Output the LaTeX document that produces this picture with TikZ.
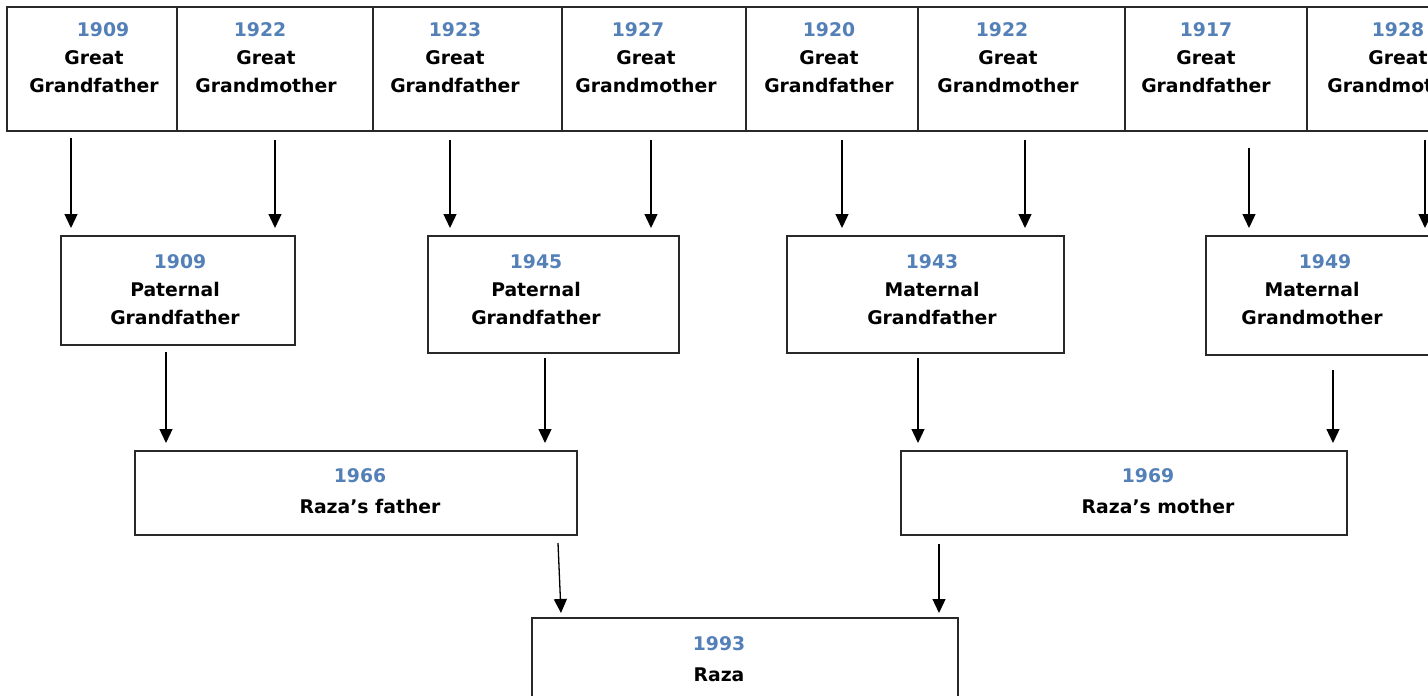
\documentclass[tikz,border=0pt]{standalone}
\usepackage{fontspec}
\setmainfont{DejaVu Sans}
\usetikzlibrary{arrows.meta}
\definecolor{yearblue}{RGB}{84,128,184}
\definecolor{boxline}{RGB}{40,40,40}
\newcommand{\yr}[1]{\textcolor{yearblue}{#1}}
\begin{document}
\begin{tikzpicture}[x=1pt,y=-1pt,
  box/.style={draw=boxline,line width=1.4pt,anchor=north west,inner sep=0pt,outer sep=0pt},
  lbl/.style={align=center,font=\bfseries\fontsize{18.8}{28}\selectfont,inner sep=0pt},
  lbltwo/.style={align=center,font=\bfseries\fontsize{18.8}{31}\selectfont,inner sep=0pt},
  arr/.style={line width=1.3pt,-{Triangle[length=14pt,width=13pt]}}]
\useasboundingbox (0,0) rectangle (1428,696);
\clip (0,0) rectangle (1428,696);
% top row
\node[box,minimum width=170pt,minimum height=124pt] (g1) at (7,7) {};
\node[box,minimum width=196pt,minimum height=124pt] (g2) at (177,7) {};
\node[box,minimum width=189pt,minimum height=124pt] (g3) at (373,7) {};
\node[box,minimum width=184pt,minimum height=124pt] (g4) at (562,7) {};
\node[box,minimum width=172pt,minimum height=124pt] (g5) at (746,7) {};
\node[box,minimum width=207pt,minimum height=124pt] (g6) at (918,7) {};
\node[box,minimum width=182pt,minimum height=124pt] (g7) at (1125,7) {};
\node[box,minimum width=190pt,minimum height=124pt] (g8) at (1307,7) {};
\node[lbl] (t1) at (94,58) {\hspace*{18pt}\yr{1909}\\Great\\Grandfather};
\node[lbl] (t2) at (266,58) {\yr{1922}\hspace*{12pt}\\Great\hspace*{12pt}\\Grandmother};
\node[lbl] (t3) at (455,58) {\yr{1923}\\Great\\Grandfather};
\node[lbl] (t4) at (646,58) {\yr{1927}\hspace*{16pt}\\Great\hspace*{16pt}\\Grandmother};
\node[lbl] (t5) at (829,58) {\yr{1920}\\Great\\Grandfather};
\node[lbl] (t6) at (1008,58) {\yr{1922}\hspace*{12pt}\\Great\hspace*{18pt}\\Grandmother};
\node[lbl] (t7) at (1206,58) {\yr{1917}\\Great\hspace*{22pt}\\Grandfather};
\node[lbl] (t8) at (1398,58) {\yr{1928}\\Great\\Grandmother};
% second row
\node[box,minimum width=234pt,minimum height=109pt] (p1) at (61,236) {};
\node[box,minimum width=251pt,minimum height=117pt] (p2) at (428,236) {};
\node[box,minimum width=277pt,minimum height=117pt] (m1) at (787,236) {};
\node[box,minimum width=240pt,minimum height=119pt] (m2) at (1206,236) {};
\node[lbl] (s1) at (175,290) {\hspace*{10pt}\yr{1909}\\Paternal\\Grandfather};
\node[lbl] (s2) at (536,290) {\yr{1945}\\Paternal\hspace*{18pt}\\Grandfather};
\node[lbl] (s3) at (932,290) {\yr{1943}\\Maternal\\Grandfather};
\node[lbl] (s4) at (1312,290) {\hspace*{26pt}\yr{1949}\\Maternal\\Grandmother};
% third row
\node[box,minimum width=442pt,minimum height=84pt] (fa) at (135,451) {};
\node[box,minimum width=446pt,minimum height=84pt] (mo) at (901,451) {};
\node[lbltwo] (u1) at (370,491) {\yr{1966}\hspace*{20pt}\\Raza’s father};
\node[lbltwo] (u2) at (1158,491) {\yr{1969}\hspace*{20pt}\\Raza’s mother};
% bottom
\node[box,minimum width=426pt,minimum height=110pt] (r) at (532,618) {};
\node[lbltwo] (u3) at (719,659) {\yr{1993}\\Raza};
% arrows top -> second
\draw[arr] ([xshift=64pt,yshift=-7pt]g1.south west) -- ([xshift=10pt,yshift=8pt]p1.north west);
\draw[arr] ([xshift=98pt,yshift=-9pt]g2.south west) -- ([xshift=214pt,yshift=8pt]p1.north west);
\draw[arr] ([xshift=77pt,yshift=-9pt]g3.south west) -- ([xshift=22pt,yshift=8pt]p2.north west);
\draw[arr] ([xshift=89pt,yshift=-9pt]g4.south west) -- ([xshift=223pt,yshift=8pt]p2.north west);
\draw[arr] ([xshift=96pt,yshift=-9pt]g5.south west) -- ([xshift=55pt,yshift=8pt]m1.north west);
\draw[arr] ([xshift=107pt,yshift=-9pt]g6.south west) -- ([xshift=238pt,yshift=8pt]m1.north west);
\draw[arr] ([xshift=124pt,yshift=-17pt]g7.south west) -- ([xshift=43pt,yshift=8pt]m2.north west);
\draw[arr] ([xshift=118pt,yshift=-9pt]g8.south west) -- ([xshift=219pt,yshift=8pt]m2.north west);
% second -> third
\draw[arr] ([xshift=105pt,yshift=-7pt]p1.south west) -- ([xshift=31pt,yshift=8pt]fa.north west);
\draw[arr] ([xshift=117pt,yshift=-5pt]p2.south west) -- ([xshift=410pt,yshift=8pt]fa.north west);
\draw[arr] ([xshift=131pt,yshift=-5pt]m1.south west) -- ([xshift=17pt,yshift=8pt]mo.north west);
\draw[arr] ([xshift=127pt,yshift=-15pt]m2.south west) -- ([xshift=432pt,yshift=8pt]mo.north west);
% third -> bottom
\draw[arr] ([xshift=423pt,yshift=-8pt]fa.south west) -- ([xshift=29pt,yshift=5pt]r.north west);
\draw[arr] ([xshift=38pt,yshift=-9pt]mo.south west) -- ([xshift=407pt,yshift=5pt]r.north west);
\end{tikzpicture}
\end{document}
